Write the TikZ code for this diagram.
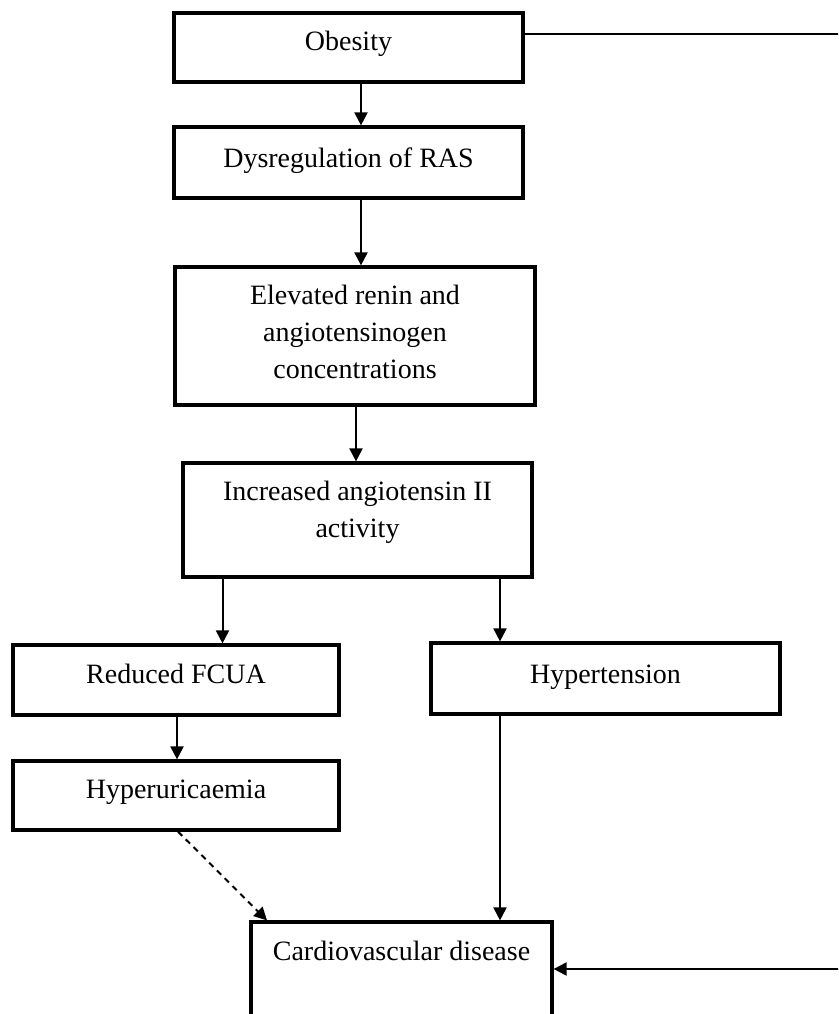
\documentclass[tikz,border=0pt]{standalone}
\usepackage{fontspec}
\setmainfont{Liberation Serif}
\usetikzlibrary{arrows.meta}
\newcommand\mlines[1]{\begin{tabular}[t]{@{}c@{}}#1\end{tabular}}
\begin{document}
\begin{tikzpicture}[x=1pt,y=-1pt,
  box/.style={draw=black,line width=3.2pt,inner sep=0pt,font=\fontsize{28}{37}\selectfont},
  conn/.style={line width=2pt,-{Triangle[length=13pt,width=13pt]}},
  dashconn/.style={conn,dash pattern=on 6pt off 5pt},
  plain/.style={line width=2pt}]
\useasboundingbox (0,0) rectangle (838,1014);
\clip (0,0) rectangle (838,1014);

\node[box,minimum width=349pt,text height=38pt,text depth=31pt] (obesity) at (348.5,47.5) {Obesity};
\node[box,minimum width=349pt,text height=40pt,text depth=31pt] (dysreg) at (348.5,162.5) {Dysregulation of RAS};
\node[box,minimum width=360pt,text height=37pt,text depth=101pt] (elev) at (355,336) {\mlines{Elevated renin and\\angiotensinogen\\concentrations}};
\node[box,minimum width=349pt,text height=37pt,text depth=77pt] (inc) at (357.5,520) {\mlines{Increased angiotensin II\\activity}};
\node[box,minimum width=326pt,text height=38pt,text depth=32pt] (reduced) at (176,680) {Reduced FCUA};
\node[box,minimum width=326pt,text height=37pt,text depth=32pt] (hyperu) at (176,795.5) {Hyperuricaemia};
\node[box,minimum width=349pt,text height=40pt,text depth=31pt] (hypert) at (605.5,678.5) {Hypertension};
\node[box,minimum width=301pt,text height=38pt,text depth=70pt] (cardio) at (401.5,976) {Cardiovascular disease};

\coordinate (rt) at (850,34);
\coordinate (rb) at (850,969);

\draw[conn] ([xshift=12.5pt]obesity.south) -- ([xshift=12.5pt]dysreg.north);
\draw[conn] ([xshift=12.5pt]dysreg.south) -- ([xshift=6pt]elev.north);
\draw[conn] ([xshift=1pt]elev.south) -- ([xshift=-1.5pt]inc.north);
\draw[conn] ([xshift=-135pt]inc.south) -- ([xshift=46.5pt]reduced.north);
\draw[conn] ([xshift=142.5pt]inc.south) -- ([xshift=-105.5pt]hypert.north);
\draw[conn] ([xshift=1pt]reduced.south) -- ([xshift=1pt]hyperu.north);
\draw[dashconn] ([xshift=2pt]hyperu.south) -- ([xshift=-134.5pt]cardio.north);
\draw[conn] ([xshift=-105.5pt]hypert.south) -- ([xshift=98.5pt]cardio.north);
\draw[plain] ([yshift=13.5pt]obesity.east) -- (rt);
\draw[conn] (rb) -- ([yshift=7pt]cardio.east);
\end{tikzpicture}
\end{document}
